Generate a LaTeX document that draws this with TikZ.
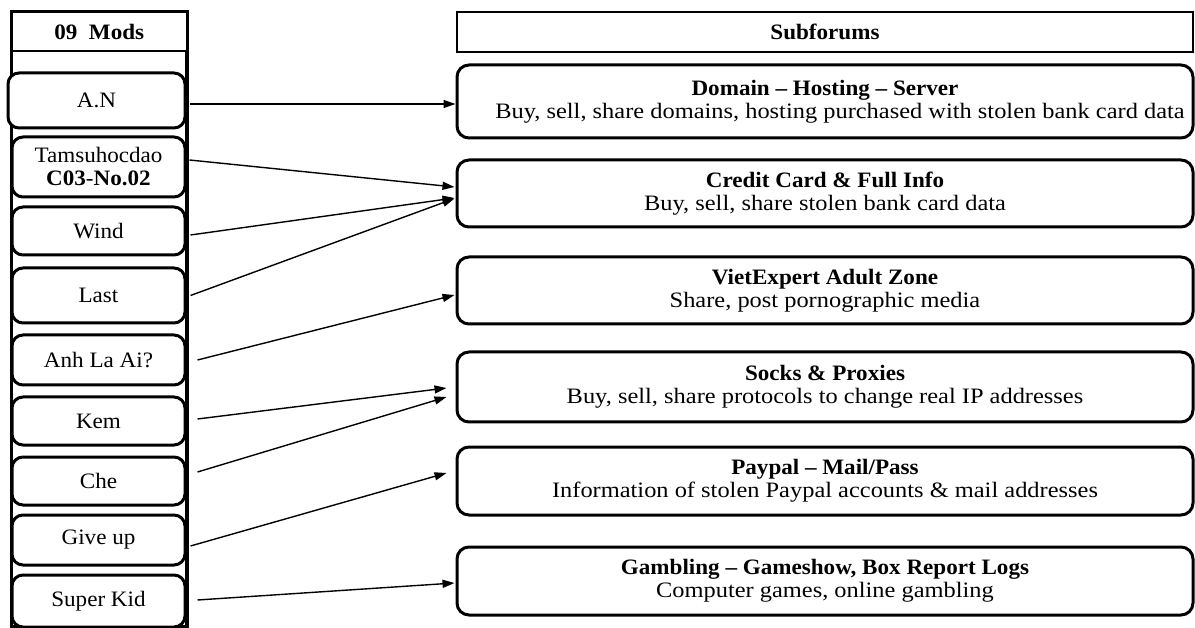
\documentclass[tikz,border=0pt]{standalone}
\usepackage{fontspec}
\setmainfont[FakeStretch=1.05]{Liberation Serif}
\newfontfamily\descfont[FakeStretch=1.11]{Liberation Serif}
\usetikzlibrary{arrows.meta}
\begin{document}
\begin{tikzpicture}[x=1pt,y=-1pt,
  txt/.style={font=\fontsize{22}{23}\selectfont, align=center},
  modbox/.style={txt, draw, line width=3pt, rounded corners=11pt, fill=white,
    minimum width=173pt, inner sep=0pt},
  subbox/.style={txt, draw, line width=3pt, rounded corners=12pt, fill=white,
    minimum width=736pt, inner sep=0pt},
  headbox/.style={txt, draw, line width=2.5pt, fill=white, inner sep=0pt,
    font=\fontsize{22}{23}\selectfont\bfseries},
  link/.style={line width=1.4pt, -{Triangle[length=12pt,width=8pt]}}]
\useasboundingbox (0,0) rectangle (1195,628);

% left column frame
\draw[line width=3.8pt] (11.5,12) rectangle (187,627);
\node[headbox, minimum width=175.5pt, minimum height=39pt] (modshead) at (99.25,31.5) {09\ \ Mods};

% moderators
\node[modbox, minimum width=177pt, minimum height=55pt] (an)   at (96.5,100.5) {A.N};
\node[modbox, minimum height=60pt] (tam)  at (98.5,167) {Tamsuhocdao\\\textbf{C03}-\textbf{No.02}};
\node[modbox, minimum height=48pt] (wind) at (98.5,231) {Wind};
\node[modbox, minimum height=55pt] (last) at (98.5,295.5) {Last};
\node[modbox, minimum height=50pt] (anh)  at (98.5,360) {Anh La Ai?};
\node[modbox, minimum height=48pt] (kem)  at (98.5,421) {Kem};
\node[modbox, minimum height=48pt] (che)  at (98.5,481) {Che};
\node[modbox, minimum height=50pt] (give) at (98.5,540) {Give up};
\node[modbox, minimum height=52pt] (kid)  at (98.5,601) {Super Kid};

% subforums
\node[headbox, minimum width=736pt, minimum height=40pt] (subhead) at (825,32) {Subforums};
\node[subbox, minimum height=73pt] (dom) at (825,101.5)
  {\textbf{Domain – Hosting – Server}\\\hspace*{30pt}\descfont Buy, sell, share domains, hosting purchased with stolen bank card data};
\node[subbox, minimum height=67pt] (cc) at (825,193.5)
  {\textbf{Credit Card \& Full Info}\\\descfont Buy, sell, share stolen bank card data};
\node[subbox, minimum height=67pt] (viet) at (825,290.5)
  {\textbf{VietExpert Adult Zone}\\\descfont Share, post pornographic media};
\node[subbox, minimum height=70pt] (socks) at (825,387)
  {\textbf{Socks \& Proxies}\\\descfont Buy, sell, share protocols to change real IP addresses};
\node[subbox, minimum height=68pt] (pay) at (825,481)
  {\textbf{Paypal – Mail/Pass}\\\descfont Information of stolen Paypal accounts \& mail addresses};
\node[subbox, minimum height=68pt] (gam) at (825,581)
  {\textbf{Gambling – Gameshow, Box Report Logs}\\\descfont Computer games, online gambling};

% who moderates what
\draw[link] ([xshift=3pt,yshift=-3.5pt]an.east)   -- ([yshift=-2.5pt]dom.west);
\draw[link] ([xshift=3pt,yshift=7pt]tam.east)     -- ([xshift=-1pt,yshift=6.5pt]cc.west);
\draw[link] ([xshift=4pt,yshift=-4pt]wind.east)   -- ([xshift=-1pt,yshift=-4.5pt]cc.west);
\draw[link] ([xshift=4pt]last.east)               -- ([xshift=-1pt,yshift=-5pt]cc.west);
\draw[link] ([xshift=11pt]anh.east)               -- ([xshift=-1pt,yshift=-4.5pt]viet.west);
\draw[link] ([xshift=11pt,yshift=2pt]kem.east)    -- ([xshift=-9pt,yshift=-1pt]socks.west);
\draw[link] ([xshift=11pt,yshift=9pt]che.east)    -- ([xshift=-9pt,yshift=-10pt]socks.west);
\draw[link] ([xshift=4pt,yshift=-6pt]give.east)   -- ([xshift=-9pt,yshift=8pt]pay.west);
\draw[link] ([xshift=11pt,yshift=1pt]kid.east)    -- ([xshift=-1pt,yshift=-2pt]gam.west);
\end{tikzpicture}
\end{document}
